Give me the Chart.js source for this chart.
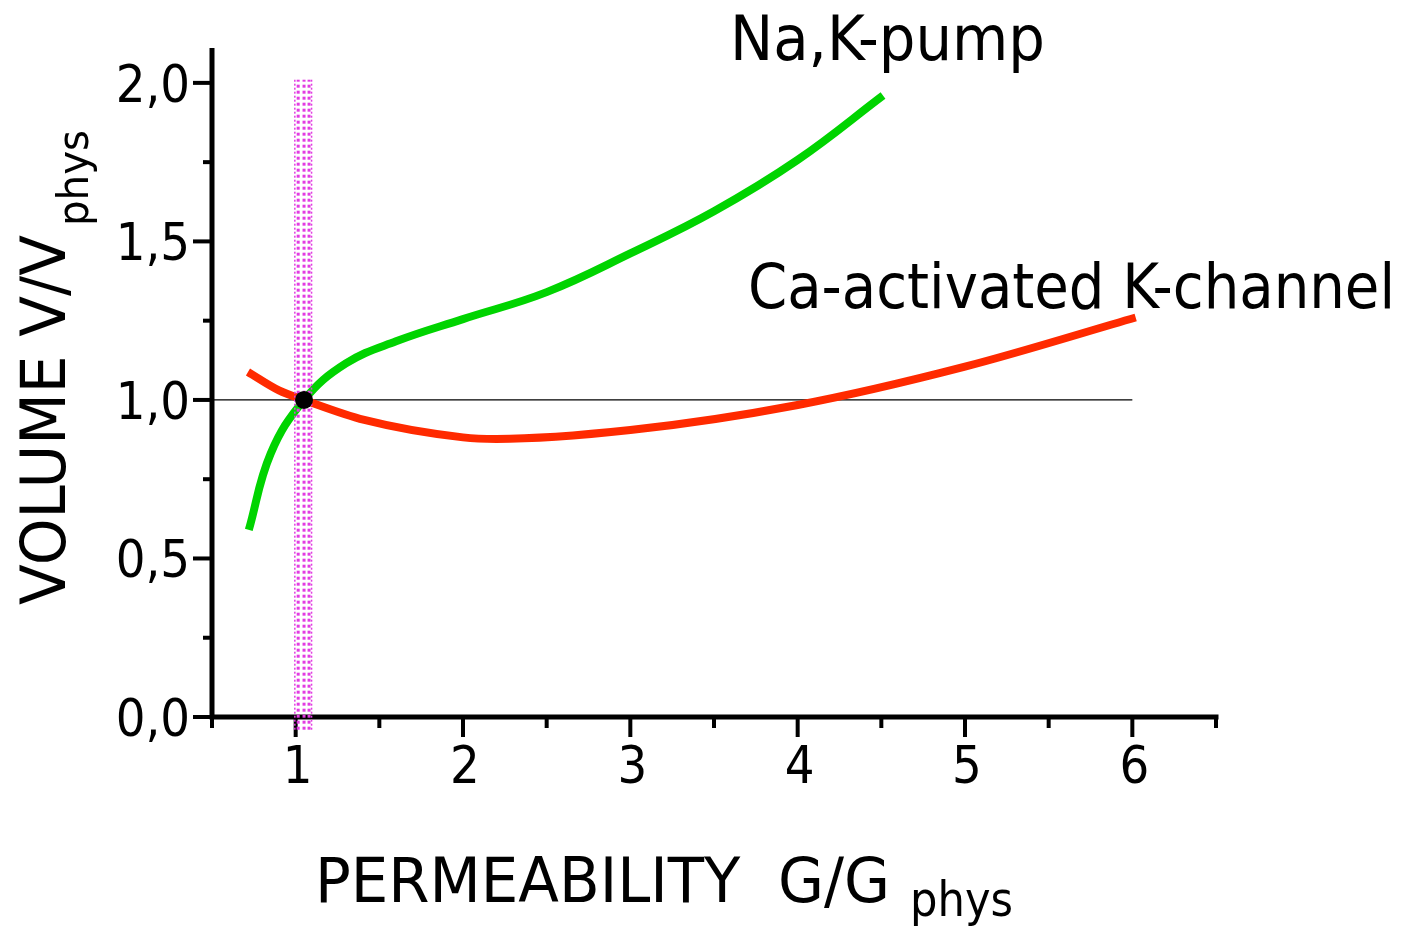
<!DOCTYPE html>
<html>
<head>
<meta charset="utf-8">
<script src="https://cdn.jsdelivr.net/npm/chart.js@4/dist/chart.umd.min.js"></script>
<style>
  body { margin: 0; background: #fff; }
</style>
</head>
<body>
<canvas id="graficaVolumen" width="1401" height="931"></canvas>
<script>
// Datos: volumen relativo frente a permeabilidad relativa
const bombaG = [0.72, 0.85, 1.05, 1.3, 1.6, 2.0, 2.5, 3.0, 3.5, 4.0, 4.51];
const bombaV = [0.59, 0.83, 1.0, 1.115, 1.185, 1.255, 1.34, 1.462, 1.595, 1.757, 1.96];

const canalG = [0.715, 0.9, 1.05, 1.41, 2.0, 2.2, 3.0, 4.0, 5.0, 6.02];
const canalV = [1.088, 1.03, 1.0, 0.937, 0.882, 0.877, 0.905, 0.984, 1.105, 1.26];

const puntoFisiologico = { x: 1.05, y: 1.0 };
const lineaReferencia = [0.5, 6.0];   // y = 1,0
const franjaG = [0.995, 1.015, 1.05, 1.08, 1.095];
const franjaV = [-0.04, 2.01];

const ticksX = [0.5, 1, 1.5, 2, 2.5, 3, 3.5, 4, 4.5, 5, 5.5, 6, 6.5];
const etiquetasX = ['1', '2', '3', '4', '5', '6'];
const ticksY = [0, 0.25, 0.5, 0.75, 1, 1.25, 1.5, 1.75, 2];
const etiquetasY = ['0,0', '0,5', '1,0', '1,5', '2,0'];

const nombres = ['Na,K-pump', 'Ca-activated K-channel'];
const tituloX = ['PERMEABILITY  G/G', 'phys'];
const tituloY = ['VOLUME V/V', 'phys'];

const FUENTE = '"DejaVu Sans Condensed", "Liberation Sans Narrow", "DejaVu Sans", sans-serif';

// texto estirado a un ancho fijo
function texto(ctx, str, x, y, size, ancho, rot) {
    ctx.save();
    ctx.font = size + 'px ' + FUENTE;
    ctx.textBaseline = 'alphabetic';
    ctx.textAlign = 'left';
    ctx.translate(x, y);
    if (rot) ctx.rotate(rot);
    const w = ctx.measureText(str).width;
    ctx.scale(ancho / w, 1);
    ctx.fillStyle = '#000';
    ctx.fillText(str, 0, 0);
    ctx.restore();
}

const ejes = {
    id: 'ejes',
    beforeDatasetsDraw(chart) {
        const { ctx, scales: { x, y } } = chart;
        const x0 = x.getPixelForValue(0.5);
        const y0 = y.getPixelForValue(0);
        ctx.save();
        ctx.strokeStyle = '#000';
        ctx.lineWidth = 5;
        ctx.lineCap = 'butt';
        ctx.beginPath();
        ctx.moveTo(x0, y.getPixelForValue(y.max));
        ctx.lineTo(x0, y0);
        ctx.moveTo(x0 - 2.5, y0);
        ctx.lineTo(x.getPixelForValue(6.5) + 2.5, y0);
        ctx.stroke();

        ctx.lineWidth = 4;
        ticksX.forEach(v => {
            const px = x.getPixelForValue(v);
            const largo = Number.isInteger(v) ? 20 : 11;
            ctx.beginPath();
            ctx.moveTo(px, y0);
            ctx.lineTo(px, y0 + largo);
            ctx.stroke();
        });
        ticksY.forEach(v => {
            const py = y.getPixelForValue(v);
            const largo = (v * 2) % 1 === 0 ? 19 : 9;
            ctx.beginPath();
            ctx.moveTo(x0, py);
            ctx.lineTo(x0 - largo, py);
            ctx.stroke();
        });

        // etiquetas de los ejes
        ctx.fillStyle = '#000';
        ctx.font = '52px ' + FUENTE;
        ctx.textBaseline = 'alphabetic';
        ctx.textAlign = 'center';
        etiquetasX.forEach(t => {
            ctx.fillText(t, x.getPixelForValue(Number(t)) + 2, y0 + 66);
        });
        ctx.textAlign = 'right';
        etiquetasY.forEach(t => {
            const v = Number(t.replace(',', '.'));
            ctx.fillText(t, x0 - 22, y.getPixelForValue(v) + 19);
        });
        ctx.restore();
    },
    afterDraw(chart) {
        const ctx = chart.ctx;
        texto(ctx, nombres[0], 730, 60, 62, 315);
        texto(ctx, nombres[1], 748, 308, 62, 647);
        texto(ctx, tituloX[0], 315, 902, 62, 575);
        texto(ctx, tituloX[1], 910, 916, 48, 103);
        texto(ctx, tituloY[0], 65, 605, 62, 370, -Math.PI / 2);
        texto(ctx, tituloY[1], 88, 226, 42, 96, -Math.PI / 2);
    }
};

const pares = (xs, ys) => xs.map((v, i) => ({ x: v, y: ys[i] }));

// franja punteada en G = G_phys
const franja = franjaG.map((g, i) => {
    const borde = i === 0 || i === franjaG.length - 1;
    return {
        data: franjaV.map(v => ({ x: g, y: v })),
        borderColor: '#e23ce2',
        borderWidth: borde ? 1.5 : 3,
        borderDash: borde ? [2, 2] : [3, 3],
        pointRadius: 0,
        clip: false
    };
});

new Chart(document.getElementById('graficaVolumen'), {
    type: 'line',
    data: {
        datasets: [
            {
                data: [puntoFisiologico],
                showLine: false,
                pointRadius: 9,
                pointBackgroundColor: '#000',
                pointBorderWidth: 0
            },
            ...franja,
            {
                data: pares(bombaG, bombaV),
                borderColor: '#00d400',
                borderWidth: 8,
                borderCapStyle: 'butt',
                tension: 0.4,
                pointRadius: 0
            },
            {
                data: pares(canalG, canalV),
                borderColor: '#ff2a00',
                borderWidth: 8,
                borderCapStyle: 'butt',
                cubicInterpolationMode: 'monotone',
                pointRadius: 0
            },
            {
                data: lineaReferencia.map(g => ({ x: g, y: 1.0 })),
                borderColor: '#000',
                borderWidth: 1.2,
                pointRadius: 0
            }
        ]
    },
    options: {
        responsive: false,
        animation: false,
        layout: { padding: { left: 212, right: 185, top: 48, bottom: 214 } },
        scales: {
            x: { type: 'linear', min: 0.5, max: 6.5, display: false },
            y: { type: 'linear', min: 0, max: 2.11, display: false }
        },
        plugins: { legend: { display: false }, tooltip: { enabled: false } }
    },
    plugins: [ejes]
});
</script>
</body>
</html>
